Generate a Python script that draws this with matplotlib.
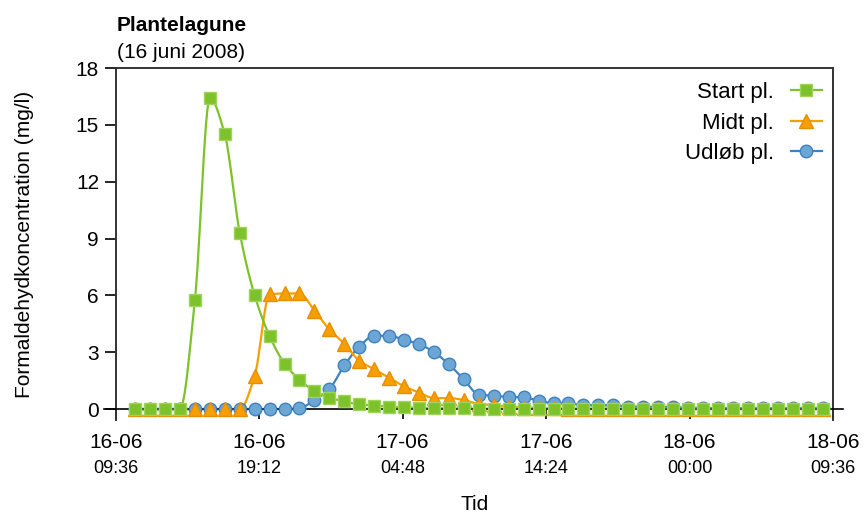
import matplotlib
matplotlib.use("Agg")
import matplotlib.pyplot as plt
import numpy as np

plt.rcParams.update({
    "font.family": ["Liberation Sans", "DejaVu Sans"],
    "font.size": 15,
})

# ----- Data (hours after 16-06 09:36, hourly samples) -----
hours = np.arange(47) + 1.3
start_pl = [0, 0, 0, 0, 5.75, 16.4, 14.5, 9.3, 6.0, 3.85,
            2.4, 1.55, 0.95, 0.6, 0.4, 0.25, 0.18, 0.12, 0.1, 0.05,
            0.04, 0.03, 0.03, 0.02, 0.02, 0.02, 0.02, 0.02, 0.02, 0.02,
            0.02, 0.02, 0.02, 0.02, 0.02, 0.02, 0.02, 0.02, 0.02, 0.02,
            0.02, 0.02, 0.02, 0.02, 0.02, 0.02, 0.02]
midt_pl = [0, 0, 0, 0, 0, 0, 0, 0, 1.75, 6.05,
           6.1, 6.1, 5.2, 4.2, 3.45, 2.55, 2.1, 1.65, 1.2, 0.87,
           0.58, 0.58, 0.47, 0.27, 0.2, 0.12, 0.08, 0.05, 0.03, 0.02,
           0, 0, 0, 0, 0, 0, 0, 0, 0, 0,
           0, 0, 0, 0, 0, 0, 0]
udlob_pl = [0, 0, 0, 0, 0, 0, 0, 0, 0, 0,
            0, 0.05, 0.47, 1.06, 2.3, 3.3, 3.87, 3.87, 3.65, 3.43,
            3.0, 2.36, 1.56, 0.76, 0.7, 0.64, 0.62, 0.44, 0.3, 0.3,
            0.21, 0.21, 0.21, 0.13, 0.12, 0.12, 0.1, 0.06, 0.05, 0.05,
            0.04, 0.04, 0.04, 0.04, 0.04, 0.04, 0.04]

tick_hours = [0, 9.6, 19.2, 28.8, 38.4, 48]
tick_dates = ["16-06", "16-06", "17-06", "17-06", "18-06", "18-06"]
tick_times = ["09:36", "19:12", "04:48", "14:24", "00:00", "09:36"]

C_GREEN, C_GREEN_E = "#7DC22A", "#9FD45C"
C_ORANGE, C_ORANGE_E = "#F5A000", "#E98E00"
C_BLUE, C_BLUE_E, C_BLUE_L = "#6CA6D4", "#3E82C0", "#3E82C0"


def smooth(x, y, n=12):
    """Monotone cubic (Fritsch-Carlson) curve through the points, for the line only."""
    x = np.asarray(x, float); y = np.asarray(y, float)
    h = np.diff(x); d = np.diff(y) / h
    m = np.zeros_like(y)
    m[0], m[-1] = d[0], d[-1]
    for i in range(1, len(y) - 1):
        if d[i - 1] * d[i] > 0:
            w1 = 2 * h[i] + h[i - 1]; w2 = h[i] + 2 * h[i - 1]
            m[i] = (w1 + w2) / (w1 / d[i - 1] + w2 / d[i])
    xs, ys = [], []
    s = np.linspace(0, 1, n, endpoint=False)
    for i in range(len(y) - 1):
        h00 = 2 * s**3 - 3 * s**2 + 1; h10 = s**3 - 2 * s**2 + s
        h01 = -2 * s**3 + 3 * s**2;    h11 = s**3 - s**2
        xs.append(x[i] + s * h[i])
        ys.append(h00 * y[i] + h10 * h[i] * m[i] + h01 * y[i + 1]
                  + h11 * h[i] * m[i + 1])
    xs.append([x[-1]]); ys.append([y[-1]])
    return np.concatenate(xs), np.concatenate(ys)


fig = plt.figure(figsize=(8.64, 5.18), dpi=100)
ax = fig.add_axes([0.1339, 0.1884, 0.8302, 0.6803])

series = [
    (udlob_pl, "Udløb pl.", "o", 9, C_BLUE, C_BLUE_E, C_BLUE_L),
    (midt_pl, "Midt pl.", "^", 10.5, C_ORANGE, C_ORANGE_E, C_ORANGE),
    (start_pl, "Start pl.", "s", 8.5, C_GREEN, C_GREEN_E, C_GREEN),
]
handles = {}
for vals, label, mk, ms, fc, ec, lc in series:
    sx, sy = smooth(hours, vals)
    ax.plot(sx, sy, color=lc, lw=1.6, zorder=2)
    ax.plot(hours, vals, ls="none", marker=mk, ms=ms, mfc=fc, mec=ec,
            mew=1.0, zorder=3)
    handles[label] = plt.Line2D([0], [0], color=lc, lw=1.6, marker=mk,
                                ms=ms, mfc=fc, mec=ec, mew=1.0)

ax.set_xlim(0, 48)
ax.set_ylim(-0.6, 18)
ax.set_yticks(np.arange(0, 19, 3))
ax.set_xticks(tick_hours)
ax.set_xticklabels(tick_dates, fontsize=15.5)
for t, lab in zip(tick_hours, tick_times):
    ax.annotate(lab, xy=(t, 0), xytext=(0, -42.5), textcoords="offset points",
                ha="center", va="center", fontsize=13, annotation_clip=False)

for side in ("left", "top", "right"):
    ax.spines[side].set_color("#333333")
    ax.spines[side].set_linewidth(1.4)
ax.spines["bottom"].set_position(("data", 0))
ax.spines["bottom"].set_bounds(-0.8, 48.7)
ax.spines["bottom"].set_linewidth(1.2)
ax.tick_params(axis="y", direction="out", length=8, width=1.2, pad=4,
               labelsize=15)
ax.tick_params(axis="x", direction="out", length=7.5, width=1.2, pad=10)

ax.set_ylabel("Formaldehydkoncentration (mg/l)", fontsize=15, labelpad=30)
ax.set_xlabel("Tid", fontsize=15)
ax.xaxis.set_label_coords(0.5, -0.212)

fig.text(0.1355, 0.950, "Plantelagune", fontsize=15, fontweight="bold",
         ha="left", va="center")
fig.text(0.1355, 0.898, "(16 juni 2008)", fontsize=15, ha="left",
         va="center")

order = ["Start pl.", "Midt pl.", "Udløb pl."]
ax.legend([handles[k] for k in order], order, loc="upper right",
          bbox_to_anchor=(0.997, 0.985),
          markerfirst=False, frameon=False, fontsize=16, handlelength=1.4,
          handletextpad=0.75, labelspacing=0.42, borderaxespad=0.1,
          borderpad=0.3)

fig.savefig("out.png", dpi=100)
